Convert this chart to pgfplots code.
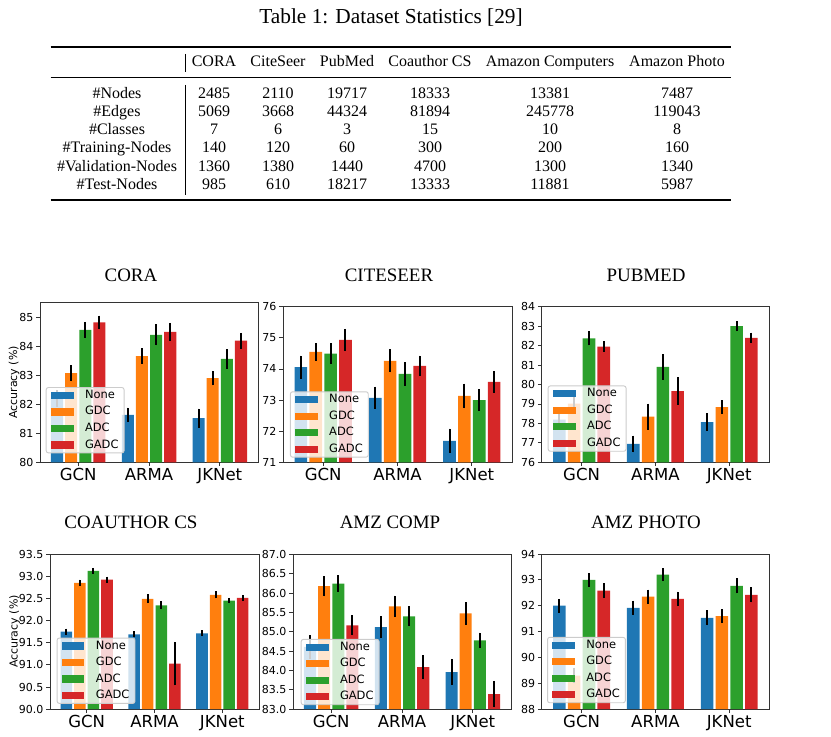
\documentclass[border=0pt]{standalone}
\usepackage{fontspec}
\setmainfont{Liberation Serif}
\newfontfamily\dejavu{DejaVu Sans}
\usepackage{pgfplots}
\pgfplotsset{compat=1.18}

\definecolor{cNone}{HTML}{1F77B4}
\definecolor{cGDC}{HTML}{FF7F0E}
\definecolor{cADC}{HTML}{2CA02C}
\definecolor{cGADC}{HTML}{D62728}

\newcommand{\mplfont}{\dejavu\fontsize{8.25}{10}\selectfont}
\newcommand{\catfont}{\dejavu\fontsize{12.4}{14}\selectfont}

% bars sit at group +-0.1/0.3, so x values carry the offset themselves
\pgfplotsset{
  acc/.style={
    scale only axis,
    xmin=-0.54, xmax=2.54,
    xtick={0,1,2}, xticklabels={GCN,ARMA,JKNet},
    tick align=outside, tick pos=left,
    major tick length=2.9pt,
    axis line style={black!80, line width=0.6pt},
    every tick/.style={black!80, line width=0.6pt},
    /pgf/number format/assume math mode=true,
    y tick label style={font=\mplfont, inner sep=1.8pt},
    x tick label style={font=\catfont, inner sep=1.4pt},
    legend style={at={(0,0)}, anchor=south west,
      font=\dejavu\fontsize{8.6}{10}\selectfont,
      draw=black!20, line width=0.7pt, rounded corners=1.6pt,
      fill=white, fill opacity=0.8, draw opacity=1, text opacity=1,
      inner xsep=3.5pt, inner ysep=1.4pt, row sep=3.4pt, column sep=8pt,
      nodes={inner sep=0.6pt, text height=6.2pt, text depth=1.6pt}},
    legend cell align=left,
  },
  legpos/.style 2 args={legend style={xshift=#1, yshift=#2}},
  ylab/.style={ylabel={Accuracy (\%)},
    ylabel style={font=\mplfont, at={([xshift=#1]axis description cs:0,0.5)}, anchor=center}},
  onedec/.style={yticklabel style={/pgf/number format/.cd, fixed, fixed zerofill, precision=1}},
  bars/.style={ybar, bar width=0.17, bar shift=0, fill=#1, draw=none,
    legend image code/.code={\fill[#1, fill opacity=1, sharp corners] (0pt,-2.7pt) rectangle (17pt,2.7pt);},
    error bars/y dir=both, error bars/y explicit, error bars/error mark=none,
    error bars/error bar style={line width=1.5pt, black}},
}

\begin{document}
\begin{tikzpicture}
\begin{scope}[x=0.75pt, y=-0.75pt]
\path[use as bounding box] (0,0) rectangle (831,737);

% table
\node[anchor=base, inner sep=0, font=\fontsize{16}{19}\selectfont] at (391,23.3) {Table 1: Dataset Statistics [29]};
\draw[line width=1.1pt] (50.6,47) -- (731,47);
\draw[line width=0.7pt] (50.6,77.3) -- (731,77.3);
\draw[line width=1.1pt] (50.6,200) -- (731,200);
\draw[line width=0.4pt] (185,54) -- (185,72);
\draw[line width=0.4pt] (185,85) -- (185,195);
\newcommand{\tabrow}[8]{%
  \node[anchor=base, inner sep=0] at (117,#1) {#2};
  \node[anchor=base, inner sep=0] at (214,#1) {#3};
  \node[anchor=base, inner sep=0] at (278,#1) {#4};
  \node[anchor=base, inner sep=0] at (347,#1) {#5};
  \node[anchor=base, inner sep=0] at (430,#1) {#6};
  \node[anchor=base, inner sep=0] at (550,#1) {#7};
  \node[anchor=base, inner sep=0] at (677,#1) {#8};}
\begingroup\fontsize{12}{14}\selectfont
\tabrow{66.7}{}{CORA}{CiteSeer}{PubMed}{Coauthor CS}{Amazon Computers}{Amazon Photo}
\tabrow{98.3}{\#Nodes}{2485}{2110}{19717}{18333}{13381}{7487}
\tabrow{116.5}{\#Edges}{5069}{3668}{44324}{81894}{245778}{119043}
\tabrow{134.7}{\#Classes}{7}{6}{3}{15}{10}{8}
\tabrow{152.9}{\#Training-Nodes}{140}{120}{60}{300}{200}{160}
\tabrow{171.1}{\#Validation-Nodes}{1360}{1380}{1440}{4700}{1300}{1340}
\tabrow{189.3}{\#Test-Nodes}{985}{610}{18217}{13333}{11881}{5987}
\endgroup

% subplot titles
\begingroup\fontsize{14.2}{16}\selectfont
\node[anchor=base, inner sep=0] at (131,282) {CORA};
\node[anchor=base, inner sep=0] at (389,282) {CITESEER};
\node[anchor=base, inner sep=0] at (646,282) {PUBMED};
\node[anchor=base, inner sep=0] at (131,528) {COAUTHOR CS};
\node[anchor=base, inner sep=0] at (390,528) {AMZ COMP};
\node[anchor=base, inner sep=0] at (646,528) {AMZ PHOTO};
\endgroup
\end{scope}

% CORA
\begin{axis}[acc, at={(30pt,-346.7pt)}, anchor=south west,
  width=163.5pt, height=119.7pt, ymin=80, ymax=85.5, ytick={80,...,85},
  ylab=-19.5pt, legpos={4.3pt}{6.7pt}]
\addplot[bars=cNone] coordinates {(-0.3,82.2) +- (0,0.3) (0.7,81.63) +- (0,0.25) (1.7,81.52) +- (0,0.33)};
\addplot[bars=cGDC] coordinates {(-0.1,83.07) +- (0,0.28) (0.9,83.66) +- (0,0.27) (1.9,82.9) +- (0,0.25)};
\addplot[bars=cADC] coordinates {(0.1,84.56) +- (0,0.28) (1.1,84.39) +- (0,0.36) (2.1,83.56) +- (0,0.33)};
\addplot[bars=cGADC] coordinates {(0.3,84.82) +- (0,0.23) (1.3,84.49) +- (0,0.31) (2.3,84.19) +- (0,0.27)};
\legend{None,GDC,ADC,GADC}
\end{axis}

% CITESEER
\begin{axis}[acc, at={(212.25pt,-346.7pt)}, anchor=south west,
  width=171.75pt, height=116.7pt, ymin=71, ymax=76, ytick={71,...,76},
  legpos={5.2pt}{3.5pt}]
\addplot[bars=cNone] coordinates {(-0.3,74.06) +- (0,0.37) (0.7,73.07) +- (0,0.36) (1.7,71.69) +- (0,0.39)};
\addplot[bars=cGDC] coordinates {(-0.1,74.55) +- (0,0.28) (0.9,74.26) +- (0,0.37) (1.9,73.13) +- (0,0.4)};
\addplot[bars=cADC] coordinates {(0.1,74.49) +- (0,0.33) (1.1,73.84) +- (0,0.38) (2.1,73.0) +- (0,0.35)};
\addplot[bars=cGADC] coordinates {(0.3,74.93) +- (0,0.36) (1.3,74.1) +- (0,0.33) (2.3,73.58) +- (0,0.34)};
\legend{None,GDC,ADC,GADC}
\end{axis}

% PUBMED
\begin{axis}[acc, at={(406.3pt,-346.7pt)}, anchor=south west,
  width=170.5pt, height=116.7pt, ymin=76, ymax=84, ytick={76,...,84},
  legpos={4.5pt}{7.9pt}]
\addplot[bars=cNone] coordinates {(-0.3,78.19) +- (0,0.3) (0.7,76.94) +- (0,0.43) (1.7,78.07) +- (0,0.45)};
\addplot[bars=cGDC] coordinates {(-0.1,79.02) +- (0,0.35) (0.9,78.35) +- (0,0.67) (1.9,78.84) +- (0,0.36)};
\addplot[bars=cADC] coordinates {(0.1,82.37) +- (0,0.36) (1.1,80.9) +- (0,0.66) (2.1,83.0) +- (0,0.26)};
\addplot[bars=cGADC] coordinates {(0.3,81.95) +- (0,0.28) (1.3,79.66) +- (0,0.71) (2.3,82.39) +- (0,0.27)};
\legend{None,GDC,ADC,GADC}
\end{axis}

% COAUTHOR CS
\begin{axis}[acc, onedec, at={(37.5pt,-531.9pt)}, anchor=south west,
  width=156.75pt, height=116.4pt, ymin=90, ymax=93.5, ytick={90,90.5,...,93.5},
  ylab=-26.6pt, legpos={5pt}{4pt}]
\addplot[bars=cNone] coordinates {(-0.3,91.75) +- (0,0.07) (0.7,91.69) +- (0,0.07) (1.7,91.71) +- (0,0.07)};
\addplot[bars=cGDC] coordinates {(-0.1,92.85) +- (0,0.07) (0.9,92.49) +- (0,0.1) (1.9,92.58) +- (0,0.08)};
\addplot[bars=cADC] coordinates {(0.1,93.12) +- (0,0.07) (1.1,92.34) +- (0,0.09) (2.1,92.45) +- (0,0.06)};
\addplot[bars=cGADC] coordinates {(0.3,92.92) +- (0,0.07) (1.3,91.03) +- (0,0.49) (2.3,92.51) +- (0,0.07)};
\legend{None,GDC,ADC,GADC}
\end{axis}

% AMZ COMP
\begin{axis}[acc, onedec, at={(219.75pt,-531.9pt)}, anchor=south west,
  width=163.5pt, height=116pt, ymin=83, ymax=87, ytick={83,83.5,...,87},
  legpos={5.8pt}{3pt}]
\addplot[bars=cNone] coordinates {(-0.3,84.61) +- (0,0.3) (0.7,85.12) +- (0,0.28) (1.7,83.96) +- (0,0.34)};
\addplot[bars=cGDC] coordinates {(-0.1,86.18) +- (0,0.26) (0.9,85.66) +- (0,0.28) (1.9,85.48) +- (0,0.29)};
\addplot[bars=cADC] coordinates {(0.1,86.25) +- (0,0.21) (1.1,85.4) +- (0,0.26) (2.1,84.78) +- (0,0.2)};
\addplot[bars=cGADC] coordinates {(0.3,85.17) +- (0,0.26) (1.3,84.09) +- (0,0.31) (2.3,83.39) +- (0,0.34)};
\legend{None,GDC,ADC,GADC}
\end{axis}

% AMZ PHOTO
\begin{axis}[acc, at={(406.3pt,-531.9pt)}, anchor=south west,
  width=170.5pt, height=116.4pt, ymin=88, ymax=94, ytick={88,...,94},
  legpos={4pt}{4.5pt}]
\addplot[bars=cNone] coordinates {(-0.3,92.0) +- (0,0.27) (0.7,91.92) +- (0,0.28) (1.7,91.53) +- (0,0.29)};
\addplot[bars=cGDC] coordinates {(-0.1,89.3) +- (0,0.3) (0.9,92.35) +- (0,0.27) (1.9,91.6) +- (0,0.27)};
\addplot[bars=cADC] coordinates {(0.1,93.0) +- (0,0.26) (1.1,93.2) +- (0,0.25) (2.1,92.77) +- (0,0.29)};
\addplot[bars=cGADC] coordinates {(0.3,92.58) +- (0,0.29) (1.3,92.27) +- (0,0.28) (2.3,92.42) +- (0,0.29)};
\legend{None,GDC,ADC,GADC}
\end{axis}
\end{tikzpicture}
\end{document}
